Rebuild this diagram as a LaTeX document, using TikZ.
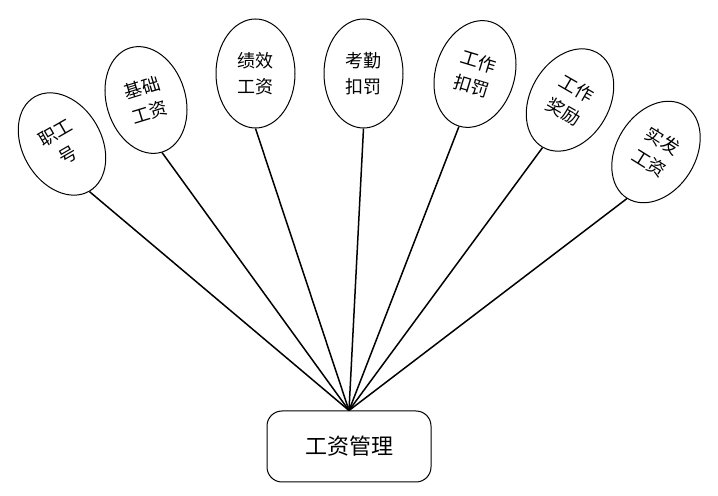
\documentclass[tikz,border=0pt]{standalone}
\usepackage{fontspec}
\setmainfont{Noto Sans CJK SC}
\usetikzlibrary{shapes.geometric}
\tikzset{
  attr/.style={draw, ellipse, line width=0.5pt, minimum width=39.5pt, minimum height=54.5pt,
    inner sep=0pt, align=center, font=\fontsize{9pt}{13pt}\selectfont},
  mgmt/.style={draw, rounded corners=7.5pt, line width=0.5pt, minimum width=82pt, minimum height=35.5pt,
    font=\fontsize{11pt}{13pt}\selectfont},
  link/.style={line width=0.75pt}
}
\begin{document}
\begin{tikzpicture}[x=0.5pt, y=0.5pt]
        \useasboundingbox (0,0) rectangle (718,-496);
        \node [mgmt] (box) at (349,-446.5) {工资管理};
        \node [attr, rotate=30] (z1) at (62,-144) {职工\\号};
        \node [attr, rotate=17] (z2) at (146,-100) {基础\\工资};
        \node [attr] (z3) at (255.5,-73.5) {绩效\\工资};
        \node [attr] (z4) at (363.5,-73.5) {考勤\\扣罚};
        \node [attr, rotate=-17] (z5) at (475,-74) {工作\\扣罚};
        \node [attr, rotate=-30] (z6) at (570,-100) {工作\\奖励};
        \node [attr, rotate=-32] (z7) at (656,-152) {实发\\工资};
        \foreach \n in {z1,z2,z3,z4,z5,z6,z7}
            \draw [link] (box.north) -- (\n.south);
\end{tikzpicture}
\end{document}
